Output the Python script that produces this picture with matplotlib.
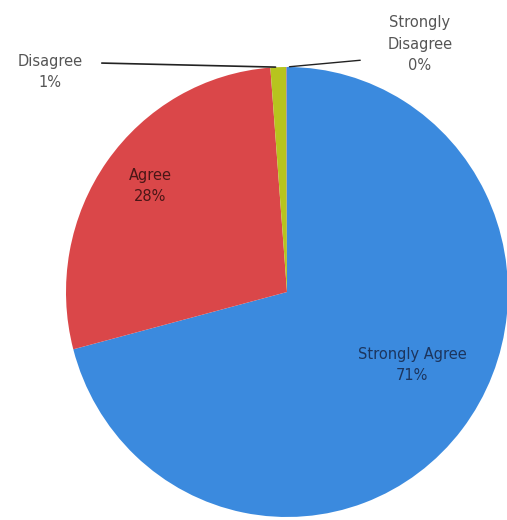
import numpy as np
import matplotlib

matplotlib.use("Agg")
import matplotlib.pyplot as plt

# survey answers (percent of responses)
categories = ["Strongly Agree", "Agree", "Disagree", "Strongly Disagree"]
shares = [70.9, 27.9, 1.15, 0.05]
shown_pct = ["71%", "28%", "1%", "0%"]
colors = ["#3b8ade", "#da4749", "#b7c41e", "#8a6fb0"]

W, H = 507, 520
CX, CY = 287, 292   # pie centre in pixels
RX, RY = 221, 225   # the scan is slightly squashed sideways


def fig_xy(px, py):
    return px / W, 1 - py / H


def main() -> None:
    fig = plt.figure(figsize=(W / 100, H / 100), dpi=100)
    ax = fig.add_axes([0, 0, 1, 1])
    ax.pie(shares, colors=colors, startangle=90, counterclock=False, radius=1,
           wedgeprops=dict(linewidth=0))
    ax.set_aspect("auto")
    ax.set_xlim(-CX / RX, (W - CX) / RX)
    ax.set_ylim(-(H - CY) / RY, CY / RY)
    ax.axis("off")

    # wedge mid angles for leader lines
    cum = np.cumsum([0] + shares) / sum(shares) * 360
    mids = [90 - (cum[i] + cum[i + 1]) / 2 for i in range(len(shares))]

    def edge(i):
        a = np.deg2rad(mids[i])
        return np.cos(a), np.sin(a)

    # leader lines for the tiny slices
    ex, ey = edge(2)
    ax.annotate("", xy=(ex, ey), xytext=((99 - CX) / RX, (CY - 63) / RY),
                arrowprops=dict(arrowstyle="-", color="#222222", lw=1.2))
    ex, ey = edge(3)
    ax.annotate("", xy=(ex, ey), xytext=((363 - CX) / RX, (CY - 60) / RY),
                arrowprops=dict(arrowstyle="-", color="#222222", lw=1.0))

    fs = 10.5
    fig.text(*fig_xy(412, 365), f"{categories[0]}\n{shown_pct[0]}", ha="center", va="center",
             fontsize=fs, color="#1c355e", linespacing=1.5)
    fig.text(*fig_xy(150, 186), f"{categories[1]}\n{shown_pct[1]}", ha="center", va="center",
             fontsize=fs, color="#4a1616", linespacing=1.5)
    fig.text(*fig_xy(50, 72), f"{categories[2]}\n{shown_pct[2]}", ha="center", va="center",
             fontsize=fs, color="#555555", linespacing=1.5)
    fig.text(*fig_xy(420, 44), "Strongly\nDisagree\n" + shown_pct[3], ha="center", va="center",
             fontsize=fs, color="#555555", linespacing=1.5)

    fig.savefig("out.png", dpi=100)
    plt.close(fig)


if __name__ == "__main__":
    main()
